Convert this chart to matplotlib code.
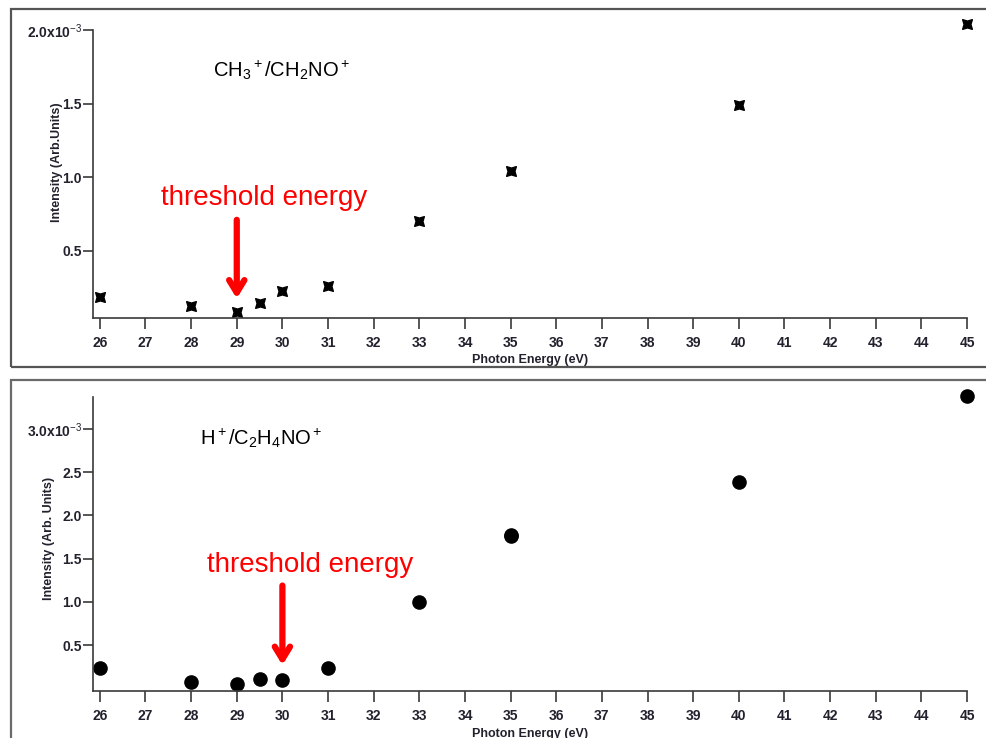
import numpy as np
import matplotlib
matplotlib.use("Agg")
import matplotlib.pyplot as plt
from matplotlib.path import Path
from matplotlib.patches import Rectangle
from matplotlib.ticker import FixedLocator, FuncFormatter

plt.rcParams['font.family'] = ['Liberation Sans', 'DejaVu Sans']
plt.rcParams['mathtext.fontset'] = 'custom'
plt.rcParams['mathtext.rm'] = 'Liberation Sans'
plt.rcParams['mathtext.it'] = 'Liberation Sans'
plt.rcParams['mathtext.bf'] = 'Liberation Sans:bold'

# photon energies (eV) and ratios in units of 1e-3
energy = [26, 28, 29, 29.5, 30, 31, 33, 35, 40, 45]
ch3_ratio = [0.186, 0.125, 0.084, 0.147, 0.225, 0.263, 0.701, 1.041, 1.489, 2.04]
h_energy = [26, 28, 29, 29.5, 30, 31, 33, 35, 35, 40, 45]
h_ratio = [0.242, 0.072, 0.057, 0.110, 0.098, 0.242, 1.005, 1.76, 1.78, 2.387, 3.38]

xticks = list(range(26, 46))
top_yticks = [0.5, 1.0, 1.5, 2.0]
bot_yticks = [0.5, 1.0, 1.5, 2.0, 2.5, 3.0]

top_title = r'$\mathregular{CH_3{}^+/CH_2NO^+}$'
bot_title = r'$\mathregular{H^+/C_2H_4NO^+}$'

TICK_COLOR = '#22222e'
SPINE_COLOR = '#3a3a3a'

# square marker with pinched sides
verts = [(-1, -1), (0, -0.7), (1, -1), (0.7, 0), (1, 1), (0, 0.7),
         (-1, 1), (-0.7, 0), (-1, -1)]
codes = [Path.MOVETO] + [Path.LINETO] * 7 + [Path.CLOSEPOLY]
star_marker = Path(verts, codes)

W, H = 986, 738
fig = plt.figure(figsize=(W / 100, H / 100), dpi=100)


def px_axes(x0, y0, x1, y1):
    return fig.add_axes([x0 / W, 1 - y1 / H, (x1 - x0) / W, (y1 - y0) / H])


def fmt_factory(top):
    def fmt(v, pos):
        if abs(v - top) < 1e-9:
            return '%.1fx10$^{-3}$' % v
        return '%.1f' % v
    return fmt


def style_axes(ax, yticks, ylabel, lab_x, lab_y):
    ax.set_xlim(25.85, 45)
    for s in ['top', 'right']:
        ax.spines[s].set_visible(False)
    for s in ['left', 'bottom']:
        ax.spines[s].set_color(SPINE_COLOR)
        ax.spines[s].set_linewidth(1.2)
    ax.xaxis.set_major_locator(FixedLocator(xticks))
    ax.yaxis.set_major_locator(FixedLocator(yticks))
    ax.yaxis.set_major_formatter(FuncFormatter(fmt_factory(yticks[-1])))
    ax.tick_params(axis='x', direction='out', length=8, width=1.2, pad=5,
                   colors=SPINE_COLOR, labelcolor=TICK_COLOR, labelsize=10)
    ax.tick_params(axis='y', direction='out', length=7, width=1.2, pad=1,
                   colors=SPINE_COLOR, labelcolor=TICK_COLOR, labelsize=10)
    for lab in ax.get_xticklabels() + ax.get_yticklabels():
        lab.set_fontweight('bold')
    ax.set_xlabel('Photon Energy (eV)', fontsize=9, fontweight='bold', color=TICK_COLOR)
    ax.xaxis.set_label_coords(0.5, -0.125)
    ax.set_ylabel(ylabel, fontsize=9, fontweight='bold', color=TICK_COLOR)
    ax.yaxis.set_label_coords(lab_x, lab_y)


# top panel
ax1 = px_axes(93, 30, 967, 318)
ax1.set_ylim(0.043, 2.0)
ax1.plot(energy, ch3_ratio, linestyle='none', marker=star_marker, markersize=7,
         color='black', clip_on=False)
style_axes(ax1, top_yticks, 'Intensity (Arb.Units)', -0.034, 0.54)
ax1.text(0.137, 0.86, top_title, transform=ax1.transAxes, fontsize=14.5,
         ha='left', va='center', color='black')
ax1.annotate('', xy=(29, 0.175), xytext=(29, 0.71),
             arrowprops=dict(arrowstyle='->,head_length=0.9,head_width=0.55',
                             color='#ff0000', lw=4.5, shrinkA=0, shrinkB=0))
ax1.text(29.59, 0.857, 'threshold energy', fontsize=20, color='#ff0000',
         ha='center', va='center')

# bottom panel
ax2 = px_axes(93, 397, 967, 691)
ax2.set_ylim(-0.029, 3.37)
ax2.plot(h_energy, h_ratio, linestyle='none', marker='o', markersize=9.5,
         color='black', clip_on=False)
style_axes(ax2, bot_yticks, 'Intensity (Arb. Units)', -0.043, 0.52)
ax2.text(0.122, 0.86, bot_title, transform=ax2.transAxes, fontsize=14.5,
         ha='left', va='center', color='black')
ax2.annotate('', xy=(30, 0.27), xytext=(30, 1.19),
             arrowprops=dict(arrowstyle='->,head_length=0.9,head_width=0.55',
                             color='#ff0000', lw=4.5, shrinkA=0, shrinkB=0))
ax2.text(30.6, 1.43, 'threshold energy', fontsize=20, color='#ff0000',
         ha='center', va='center')

# panel frames
for y0, y1, col in [(9, 367, '#555555'), (380, 760, '#6a6a6a')]:
    fig.add_artist(Rectangle((11 / W, 1 - y1 / H), (1000 - 11) / W, (y1 - y0) / H,
                             transform=fig.transFigure, fill=False,
                             edgecolor=col, linewidth=1.6, clip_on=False))

fig.savefig('out.png', dpi=100)
